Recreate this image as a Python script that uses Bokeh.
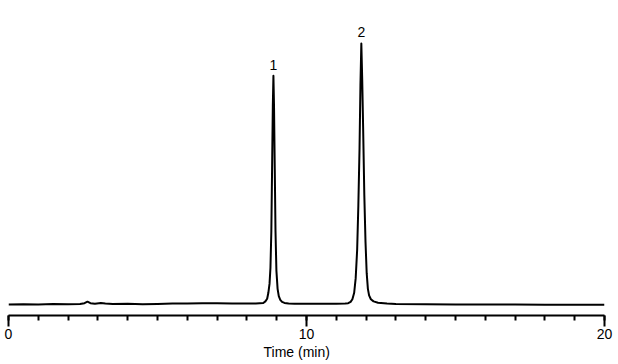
from bokeh.plotting import figure
from bokeh.models import Range1d, SingleIntervalTicker, Title
from bokeh.core.properties import value
from bokeh.embed import file_html
from bokeh.resources import INLINE

# chromatogram trace (time in min, signal in arbitrary units)
time_min = [0.00, 0.50, 1.00, 1.50, 2.00, 2.40, 2.55, 2.65, 2.75, 2.90, 3.10, 3.25, 3.50,
            4.00, 4.50, 5.00, 5.50, 6.00, 6.50, 7.00, 7.50, 8.00, 8.30,
            8.55, 8.62, 8.68, 8.72, 8.76, 8.79, 8.82, 8.845, 8.87, 8.89, 8.91, 8.935,
            8.96, 8.99, 9.03, 9.07, 9.12, 9.18, 9.26, 9.40, 9.60,
            10.00, 10.50, 11.00, 11.30, 11.40, 11.48, 11.54, 11.60, 11.65, 11.70, 11.74,
            11.78, 11.81, 11.84, 11.87, 11.90, 11.94, 11.98, 12.02, 12.06, 12.10, 12.16,
            12.25, 12.40, 12.70, 13.00, 14.00, 15.00, 16.00, 17.00, 18.00, 19.00, 20.00]
signal = [0.0, 0.1, 0.0, 0.2, 0.1, 0.2, 0.5, 1.1, 0.5, 0.3, 0.6, 0.4, 0.2,
          0.3, 0.1, 0.2, 0.4, 0.4, 0.5, 0.5, 0.4, 0.4, 0.4,
          0.6, 1.2, 2.2, 4.5, 8.0, 14.0, 28.0, 52.0, 76.0, 87.6, 76.0, 52.0,
          28.0, 13.0, 6.0, 3.2, 1.8, 1.0, 0.6, 0.4, 0.3,
          0.3, 0.3, 0.3, 0.4, 0.5, 1.0, 2.0, 4.5, 10.0, 21.0, 38.0,
          60.0, 84.0, 100.0, 86.0, 68.0, 42.0, 24.0, 12.0, 6.0, 3.5, 2.0,
          1.2, 0.7, 0.4, 0.2, 0.1, 0.0, 0.0, 0.0, -0.1, -0.1, -0.1]

peak_times = [8.89, 11.84]
peak_heights = [87.6, 100.0]
peak_labels = ["1", "2"]

x_label = "Time (min)"

p = figure(width=618, height=364, output_backend="svg", toolbar_location=None,
           x_range=Range1d(0, 20), y_range=Range1d(-4.21, 108.8),
           y_axis_location=None,
           min_border_left=8, min_border_right=14, min_border_top=20, min_border_bottom=49)
p.outline_line_color = None
p.grid.visible = False
p.background_fill_color = "white"
p.border_fill_color = "white"

p.line(time_min, signal, line_color="black", line_width=2, line_join="round")

p.text(x=peak_times, y=peak_heights, text=peak_labels, text_align="center",
       text_baseline="alphabetic", y_offset=-11, text_font=value("Liberation Sans"),
       text_font_size="14px", text_color="black")

ax = p.xaxis[0]
ax.ticker = SingleIntervalTicker(interval=10, num_minor_ticks=10)
ax.axis_line_width = 2
ax.axis_line_color = "black"
ax.major_tick_line_width = 2
ax.major_tick_out = 11
ax.major_tick_in = 0
ax.minor_tick_line_width = 2
ax.minor_tick_out = 5
ax.minor_tick_in = 0
ax.major_label_standoff = 2
ax.major_label_text_font = "Liberation Sans"
ax.major_label_text_font_size = "14px"
ax.major_label_text_color = "black"

p.add_layout(Title(text=x_label, align="left", offset=255, standoff=0,
                   text_font="Liberation Sans", text_font_size="14px",
                   text_font_style="normal", text_color="black"), "below")

open("out.html", "w").write(file_html(p, INLINE))
